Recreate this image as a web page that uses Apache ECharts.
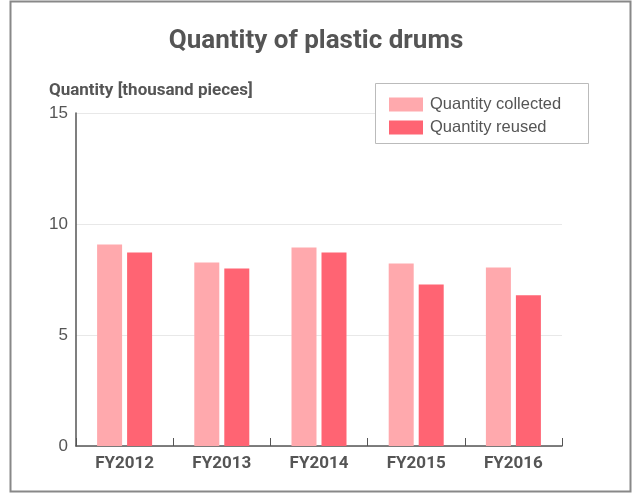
<!DOCTYPE html>
<html>
<head>
<meta charset="utf-8">
<script src="https://cdn.jsdelivr.net/npm/echarts@6/dist/echarts.min.js"></script>
<style>
html,body{margin:0;padding:0;background:#fff;}
#chart{width:632px;height:493px;}
</style>
</head>
<body>
<div id="chart"></div>
<script>
const categories = ['FY2012', 'FY2013', 'FY2014', 'FY2015', 'FY2016'];
const collected = [9.08, 8.27, 8.94, 8.22, 8.04];
const reused = [8.72, 8.0, 8.72, 7.28, 6.79];
const seriesNames = ['Quantity collected', 'Quantity reused'];
const yTicks = { min: 0, max: 15, interval: 5 };

const condensed = '"Liberation Sans Narrow", "Roboto", "Noto Sans", sans-serif';
const chart = echarts.init(document.getElementById('chart'), null, { renderer: 'canvas' });
chart.setOption({
  animation: false,
  backgroundColor: '#fff',
  title: {
    text: 'Quantity of plastic drums',
    left: 'center',
    top: 28,
    padding: 0,
    textStyle: { fontFamily: condensed, fontWeight: 'bold', fontSize: 26, color: '#555' }
  },
  graphic: [{
    type: 'rect',
    shape: { x: 10.5, y: 1.5, width: 620, height: 490 },
    style: { fill: 'none', stroke: '#888', lineWidth: 2 },
    silent: true
  }, {
    type: 'rect',
    shape: { x: 375.5, y: 83.5, width: 213, height: 60 },
    style: { fill: '#fff', stroke: '#bbb', lineWidth: 1 },
    silent: true,
    z: 1
  }],
  legend: {
    orient: 'vertical',
    left: 389,
    top: 96,
    padding: 0,
    itemWidth: 34,
    itemHeight: 14,
    itemGap: 6,
    icon: 'rect',
    z: 5,
    textStyle: { fontFamily: '"Liberation Sans", Arial, sans-serif', fontSize: 16.5, color: '#555', padding: [0, 0, 0, 2] },
    data: seriesNames
  },
  grid: { left: 76, right: 70, top: 113, bottom: 47, containLabel: false },
  xAxis: {
    type: 'category',
    data: categories,
    axisLine: { show: true, lineStyle: { color: '#555', width: 1.5 } },
    axisTick: { show: true, inside: true, length: 8, lineStyle: { color: '#555' } },
    axisLabel: { fontFamily: condensed, fontWeight: 'bold', fontSize: 17, color: '#555', margin: 9 }
  },
  yAxis: {
    type: 'value',
    min: yTicks.min,
    max: yTicks.max,
    interval: yTicks.interval,
    name: 'Quantity [thousand pieces]',
    nameLocation: 'end',
    nameGap: 14,
    nameTextStyle: { fontFamily: condensed, fontWeight: 'bold', fontSize: 17, color: '#555', align: 'left', padding: [0, 0, 0, -27] },
    axisLine: { show: true, lineStyle: { color: '#555', width: 1.5 } },
    axisTick: { show: false },
    axisLabel: { fontFamily: '"Liberation Sans", Arial, sans-serif', fontSize: 17, color: '#555', margin: 8 },
    splitLine: { show: true, lineStyle: { color: '#e8e8e8', width: 1 } }
  },
  series: [{
    name: seriesNames[0],
    type: 'bar',
    data: collected,
    barWidth: 25,
    barGap: '20%',
    itemStyle: { color: '#ffa9ad' }
  }, {
    name: seriesNames[1],
    type: 'bar',
    data: reused,
    barWidth: 25,
    barGap: '20%',
    itemStyle: { color: '#ff6473' }
  }]
});
</script>
</body>
</html>
